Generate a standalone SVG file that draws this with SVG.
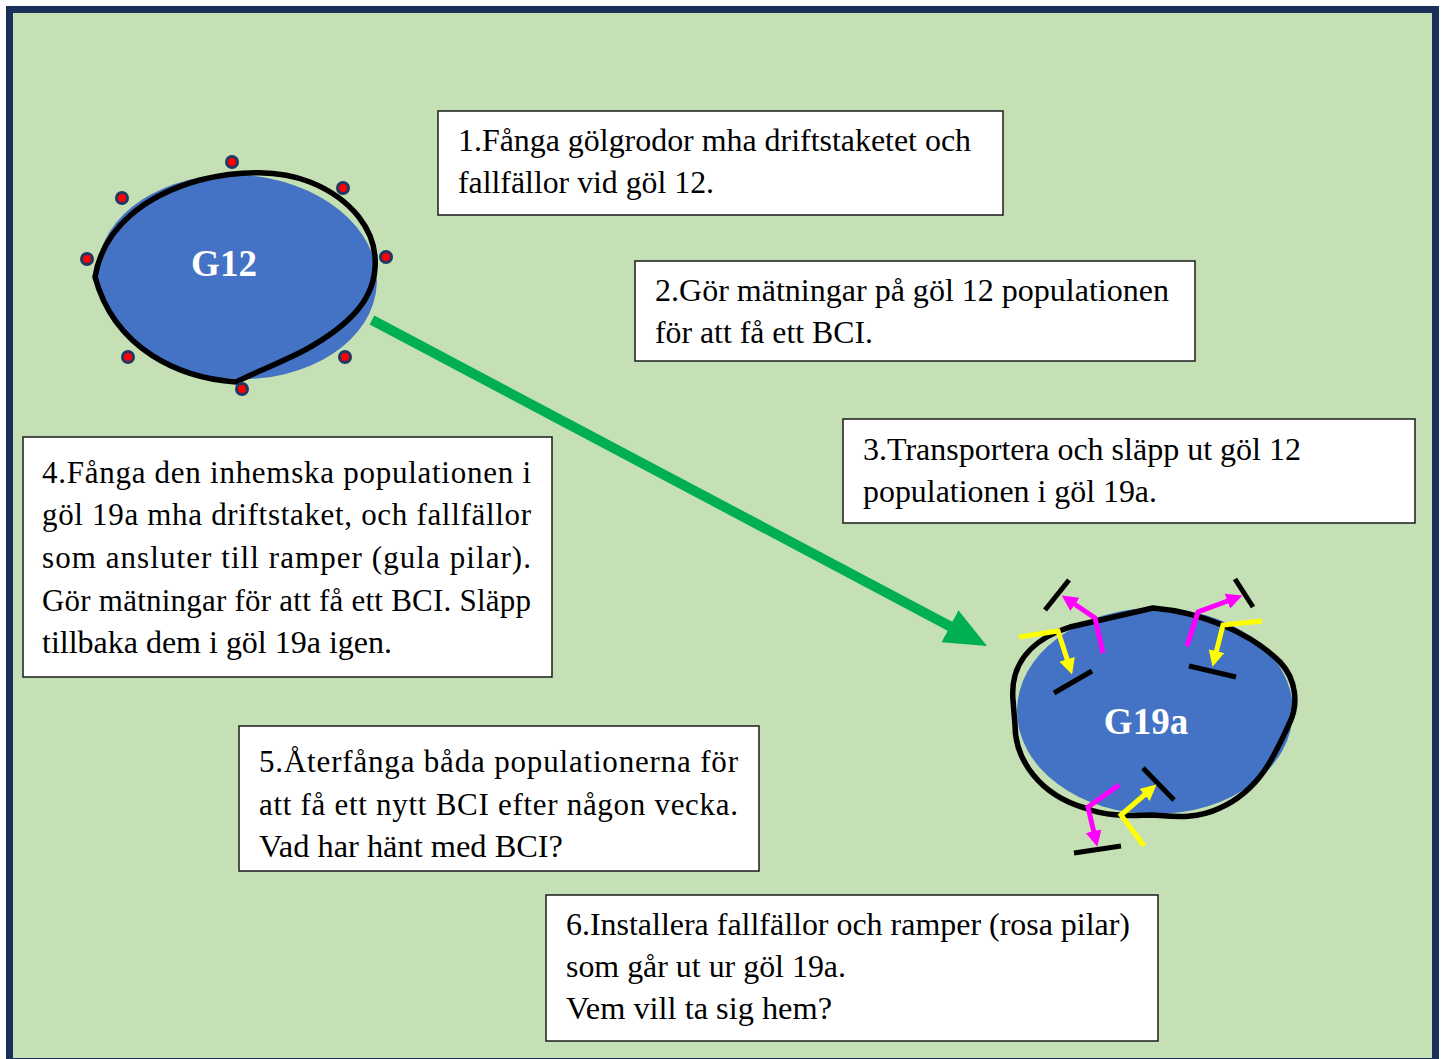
<svg xmlns="http://www.w3.org/2000/svg" width="1446" height="1059" viewBox="0 0 1446 1059">
<style>
.box{fill:#fff;stroke:#1a1a1a;stroke-width:1.5}
.t{font-family:"Liberation Serif","Times New Roman",serif;font-size:31px;fill:#000}
.lbl{font-family:"Liberation Serif","Times New Roman",serif;font-size:37px;font-weight:bold;fill:#fff;text-anchor:middle}
.pond{fill:#4472C4}
.rim{fill:none;stroke:#000;stroke-width:5.5;stroke-linejoin:round}
.dot{fill:#FF0000;stroke:#1F3864;stroke-width:3}
.bar{stroke:#000;stroke-width:5;fill:none}
.mag{stroke:#FF00FF;stroke-width:5;fill:none;stroke-linejoin:miter;marker-end:url(#mh)}
.yel{stroke:#FFFF00;stroke-width:5;fill:none;stroke-linejoin:miter;marker-end:url(#yh)}
</style>
<defs>
<marker id="gh" markerUnits="userSpaceOnUse" viewBox="0 0 42 36" markerWidth="42" markerHeight="36" refX="8" refY="18" orient="auto"><path d="M0,0 L42,18 L0,36 Z" fill="#00B050"/></marker>
<marker id="mh" markerUnits="userSpaceOnUse" viewBox="0 0 16 16" markerWidth="16" markerHeight="16" refX="6" refY="8" orient="auto"><path d="M0,0 L16,8 L0,16 Z" fill="#FF00FF"/></marker>
<marker id="yh" markerUnits="userSpaceOnUse" viewBox="0 0 16 16" markerWidth="16" markerHeight="16" refX="6" refY="8" orient="auto"><path d="M0,0 L16,8 L0,16 Z" fill="#FFFF00"/></marker>
</defs>
<rect x="0" y="0" width="1446" height="1059" fill="#fff"/>
<rect x="6" y="6" width="1433" height="1053" fill="#19305A"/>
<rect x="13" y="13" width="1419" height="1045" fill="#C5E0B4"/>

<g id="connectors">
<line x1="372" y1="320" x2="957" y2="630" stroke="#00B050" stroke-width="10" marker-end="url(#gh)"/>
</g>

<g id="pond-g12">
<ellipse class="pond" cx="237" cy="277" rx="140" ry="102" transform="rotate(3 237 277)"/>
<path class="rim" d="M95,277 C103,228 145,195 200,180 C240,170 280,170 310,182 C350,198 378,230 375,268 C373,300 350,325 305,350 C278,364 256,372 236,382 C180,378 115,350 95,277 Z"/>
<circle class="dot" cx="232" cy="162" r="5.5"/>
<circle class="dot" cx="122" cy="198" r="5.5"/>
<circle class="dot" cx="343" cy="188" r="5.5"/>
<circle class="dot" cx="87" cy="259" r="5.5"/>
<circle class="dot" cx="386" cy="257" r="5.5"/>
<circle class="dot" cx="128" cy="357" r="5.5"/>
<circle class="dot" cx="345" cy="357" r="5.5"/>
<circle class="dot" cx="242" cy="389" r="5.5"/>
<text class="lbl" x="224" y="276">G12</text>
</g>

<g id="pond-g19a">
<ellipse class="pond" cx="1155" cy="711" rx="138" ry="103"/>
<path class="rim" d="M1013,700 C1010,665 1030,640 1070,627 L1153,608 C1200,612 1250,632 1280,662 C1297,680 1298,705 1290,722 C1275,755 1260,790 1220,808 C1195,820 1170,816 1153,815 C1135,815 1110,818 1085,808 C1040,795 1015,760 1015,725 Z"/>
<text class="lbl" x="1146" y="734">G19a</text>
<line class="bar" x1="1045" y1="610" x2="1069" y2="580"/>
<line class="bar" x1="1054" y1="693" x2="1092" y2="671"/>
<line class="bar" x1="1235" y1="579" x2="1253" y2="607"/>
<line class="bar" x1="1189" y1="666" x2="1236" y2="677"/>
<line class="bar" x1="1143" y1="768" x2="1174" y2="800"/>
<line class="bar" x1="1074" y1="853" x2="1121" y2="846"/>
<polyline class="mag" points="1103,653 1095,618 1070,601"/>
<polyline class="mag" points="1187,646 1198,612 1233,599"/>
<polyline class="mag" points="1119,785 1088,807 1095,837"/>
<polyline class="yel" points="1019,637 1058,631 1069,665"/>
<polyline class="yel" points="1262,621 1223,625 1215,657"/>
<polyline class="yel" points="1144,846 1121,815 1149,791"/>
</g>

<g id="step1">
<rect class="box" x="438" y="111" width="565" height="104"/>
<text class="t" x="458" y="151" textLength="513" lengthAdjust="spacingAndGlyphs">1.Fånga gölgrodor mha driftstaketet och</text>
<text class="t" x="458" y="193" textLength="256" lengthAdjust="spacingAndGlyphs">fallfällor vid göl 12.</text>
</g>

<g id="step2">
<rect class="box" x="635" y="261" width="560" height="100"/>
<text class="t" x="655" y="301" textLength="514" lengthAdjust="spacingAndGlyphs">2.Gör mätningar på göl 12 populationen</text>
<text class="t" x="655" y="343" textLength="218" lengthAdjust="spacingAndGlyphs">för att få ett BCI.</text>
</g>

<g id="step3">
<rect class="box" x="843" y="419" width="572" height="104"/>
<text class="t" x="863" y="460" textLength="438" lengthAdjust="spacingAndGlyphs">3.Transportera och släpp ut göl 12</text>
<text class="t" x="863" y="502" textLength="294" lengthAdjust="spacingAndGlyphs">populationen i göl 19a.</text>
</g>

<g id="step4">
<rect class="box" x="23" y="437" width="529" height="240"/>
<text class="t" x="42" y="483" textLength="489" lengthAdjust="spacing">4.Fånga den inhemska populationen i</text>
<text class="t" x="42" y="525" textLength="489" lengthAdjust="spacing">göl 19a mha driftstaket, och fallfällor</text>
<text class="t" x="42" y="568" textLength="489" lengthAdjust="spacing">som ansluter till ramper (gula pilar).</text>
<text class="t" x="42" y="611" textLength="489" lengthAdjust="spacing">Gör mätningar för att få ett BCI. Släpp</text>
<text class="t" x="42" y="653" textLength="350" lengthAdjust="spacingAndGlyphs">tillbaka dem i göl 19a igen.</text>
</g>

<g id="step5">
<rect class="box" x="239" y="726" width="520" height="145"/>
<text class="t" x="259" y="772" textLength="479" lengthAdjust="spacing">5.Återfånga båda populationerna för</text>
<text class="t" x="259" y="815" textLength="479" lengthAdjust="spacing">att få ett nytt BCI efter någon vecka.</text>
<text class="t" x="259" y="857" textLength="304" lengthAdjust="spacingAndGlyphs">Vad har hänt med BCI?</text>
</g>

<g id="step6">
<rect class="box" x="546" y="895" width="612" height="146"/>
<text class="t" x="566" y="935" textLength="564" lengthAdjust="spacingAndGlyphs">6.Installera fallfällor och ramper (rosa pilar)</text>
<text class="t" x="566" y="977" textLength="280" lengthAdjust="spacingAndGlyphs">som går ut ur göl 19a.</text>
<text class="t" x="566" y="1019" textLength="266" lengthAdjust="spacingAndGlyphs">Vem vill ta sig hem?</text>
</g>
</svg>
